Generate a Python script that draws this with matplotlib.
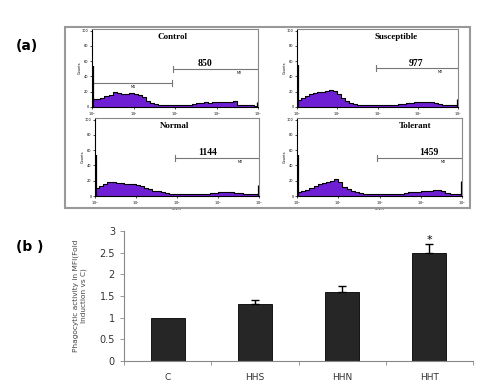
import matplotlib.pyplot as plt
from matplotlib.patches import Rectangle
import numpy as np

# panel (a): flow cytometry histograms (counts per 0.1-decade bin, 10^0 .. 10^4)
hist_titles = ['Control', 'Susceptible', 'Normal', 'Tolerant']
hist_mfi = ['850', '977', '1144', '1459']
control_counts = [10, 11, 12, 14, 16, 20, 18, 17, 17, 18, 17, 16, 13, 8, 5, 4, 3, 3, 2, 2,
                  2, 3, 3, 3, 4, 5, 5, 6, 5, 6, 6, 7, 6, 7, 8, 3, 2, 2, 2, 1]
susceptible_counts = [9, 12, 14, 17, 18, 19, 20, 21, 22, 21, 17, 12, 8, 5, 4, 3, 3, 2, 2, 2,
                      2, 2, 3, 3, 3, 4, 4, 5, 5, 6, 7, 7, 7, 6, 5, 4, 3, 3, 2, 2]
normal_counts = [10, 13, 16, 18, 18, 17, 17, 16, 16, 16, 15, 13, 11, 9, 7, 6, 5, 4, 3, 3,
                 2, 2, 2, 2, 2, 3, 3, 3, 4, 4, 5, 5, 5, 5, 4, 4, 3, 3, 2, 2]
tolerant_counts = [5, 6, 8, 10, 13, 16, 17, 18, 20, 22, 18, 12, 9, 7, 5, 4, 3, 3, 2, 2,
                   2, 2, 3, 3, 3, 3, 4, 5, 5, 5, 6, 6, 7, 8, 8, 6, 4, 3, 3, 3]
left_spike = [53, 55, 53, 53]
right_spike = [6, 10, 14, 20]
m2_start = [1.95, 1.97, 1.95, 1.93]
m2_level = [50, 51, 50, 50]
title_x = [1.93, 2.47, 1.95, 2.87]
mfi_x = [2.73, 2.96, 2.75, 3.2]

# panel (b): phagocytic activity
groups = ['C', 'HHS', 'HHN', 'HHT']
fold = [1.0, 1.31, 1.6, 2.5]
fold_err = [0.0, 0.1, 0.13, 0.2]

W, H = 501, 388
fig = plt.figure(figsize=(W / 100, H / 100), dpi=100)


def px_axes(left, top, right, bottom):
    return fig.add_axes([left / W, 1 - bottom / H, (right - left) / W, (bottom - top) / H])


fig.add_artist(Rectangle((65 / W, 1 - 208 / H), 405 / W, 181 / H, transform=fig.transFigure,
                         fill=False, ec='#999999', lw=1.5))

boxes = [(92, 29, 258, 107), (297, 29, 458, 107), (95, 118, 259, 196), (297, 118, 462, 196)]
all_counts = [control_counts, susceptible_counts, normal_counts, tolerant_counts]
edges = np.linspace(0, 4, 41)

for i, box in enumerate(boxes):
    ax = px_axes(*box)
    counts = np.array(all_counts[i], dtype=float)
    ys = np.append(counts, counts[-1])
    ax.fill_between(edges, ys, step='post', color='#6f1fd3', lw=0)
    ax.step(edges, ys, where='post', color='black', lw=0.8)
    ax.vlines(0.03, 0, left_spike[i], color='black', lw=1.6, zorder=5)
    ax.vlines(3.98, 0, right_spike[i], color='black', lw=0.9, zorder=5)
    ax.set_xlim(0, 4)
    ax.set_ylim(0, 102)
    ax.set_xticks(range(5))
    ax.set_xticklabels([f'$10^{k}$' for k in range(5)], fontsize=2.5)
    ax.set_yticks(range(0, 101, 20))
    ax.set_yticklabels([str(v) for v in range(0, 101, 20)], fontsize=2.5)
    ax.tick_params(length=1.5, width=0.5, pad=1)
    ax.set_xlabel('FL1-H', fontsize=2.5, labelpad=0)
    ax.set_ylabel('Counts', fontsize=2.5, labelpad=0)
    ax.spines['left'].set_linewidth(0.8)
    ax.spines['bottom'].set_linewidth(0.8)
    for s in ['top', 'right']:
        ax.spines[s].set_color('#888888')
        ax.spines[s].set_linewidth(0.8)

    # gates
    ax.plot([m2_start[i], 4], [m2_level[i], m2_level[i]], color='#777777', lw=0.8)
    ax.plot([m2_start[i]] * 2, [m2_level[i] - 4, m2_level[i] + 4], color='#777777', lw=0.8)
    ax.text(3.55, m2_level[i] - 3, 'M2', fontsize=2.5, ha='center', va='top')
    if i == 0:
        ax.plot([0, 1.93], [31, 31], color='#777777', lw=0.8)
        ax.plot([1.93] * 2, [27, 35], color='#777777', lw=0.8)
        ax.text(1.0, 29, 'M1', fontsize=2.5, ha='center', va='top')

    ax.text(title_x[i], 91, hist_titles[i], family='Liberation Serif', weight='bold',
            fontsize=6.5, ha='center', va='center')
    ax.text(mfi_x[i], 57, hist_mfi[i], family='Liberation Serif', weight='bold',
            fontsize=7, ha='center', va='center')

fig.text(27 / W, 1 - 46 / H, '(a)', fontsize=10, weight='bold', ha='center', va='center')
fig.text(30 / W, 1 - 247 / H, '(b )', fontsize=10, weight='bold', ha='center', va='center')

# bar chart
axb = px_axes(124, 231, 473, 361)
x = np.arange(len(groups))
yerr = np.array([np.zeros(len(groups)), fold_err])
axb.bar(x, fold, width=0.39, color='#262626', edgecolor='black', lw=0.6)
axb.errorbar(x[1:], fold[1:], yerr=yerr[:, 1:], fmt='none', ecolor='black',
             elinewidth=1, capsize=3, capthick=1)
axb.text(x[-1], fold[-1] + fold_err[-1] + 0.1, '*', ha='center', va='center', fontsize=8)
axb.set_xlim(-0.5, 3.5)
axb.set_ylim(0, 3)
axb.set_yticks(np.arange(0, 3.01, 0.5))
axb.set_yticklabels(['0', '0.5', '1', '1.5', '2', '2.5', '3'])
axb.set_xticks(x)
axb.set_xticklabels(groups)
axb.set_xticks(np.arange(-0.5, 3.6, 1), minor=True)
axb.tick_params(axis='x', which='major', length=0, pad=9, labelsize=6.5, labelcolor='#333333')
axb.tick_params(axis='x', which='minor', length=3, width=0.6, direction='out', color='#888888')
axb.tick_params(axis='y', length=3, width=0.6, labelsize=7, labelcolor='#333333', color='#888888')
for s in ['top', 'right']:
    axb.spines[s].set_visible(False)
for s in ['left', 'bottom']:
    axb.spines[s].set_color('#888888')
    axb.spines[s].set_linewidth(0.8)
axb.set_ylabel('Phagocytic activity in MFI(Fold\nInduction vs C)', fontsize=5.3,
               color='#444444', labelpad=9)

fig.savefig('out.png', dpi=100)
